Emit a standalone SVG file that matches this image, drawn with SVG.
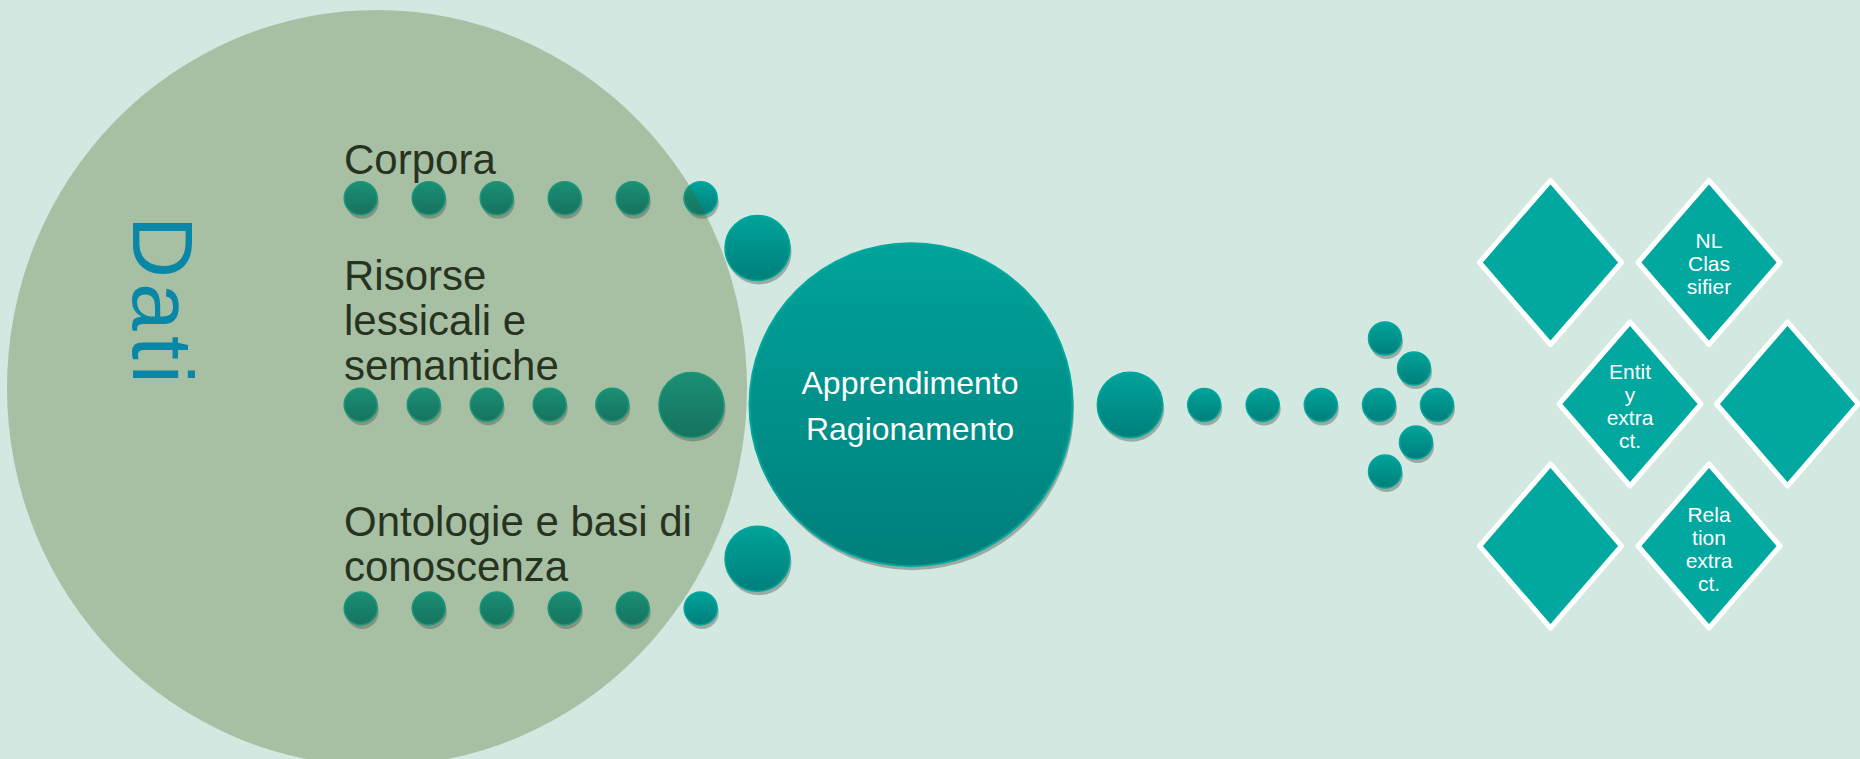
<svg xmlns="http://www.w3.org/2000/svg" width="1860" height="759" viewBox="0 0 1860 759">
<defs>
<linearGradient id="gTeal" x1="0" y1="0" x2="0" y2="1"><stop offset="0" stop-color="#00A39A"/><stop offset="1" stop-color="#007F7B"/></linearGradient>
<linearGradient id="gGreen" x1="0" y1="0" x2="0" y2="1"><stop offset="0" stop-color="#1A8F74"/><stop offset="1" stop-color="#16735E"/></linearGradient>
<clipPath id="clipBig"><ellipse cx="377" cy="388" rx="370" ry="378"/></clipPath>
<g id="dotT"><circle cx="1.5" cy="4" r="16.5" class="sh"/><circle r="16.5" class="tl"/></g>
<g id="dotG"><circle cx="1.5" cy="4" r="16.5" class="sh"/><circle r="16.5" class="gr"/></g>
</defs>
<style>
.sh{fill:#4E5550;fill-opacity:0.42}
.tl{fill:url(#gTeal);stroke:#00A89E;stroke-width:1.5}
.gr{fill:url(#gGreen);stroke:#1A967A;stroke-width:1.5}
.lbl{font-family:"Liberation Sans",Arial,sans-serif;font-size:42px;fill:#28331F}
.wt{font-family:"Liberation Sans",Arial,sans-serif;fill:#FFFFFF;text-anchor:middle}
.dia{fill:#00A8A0;stroke:#FFFFFF;stroke-width:5;stroke-linejoin:round}
</style>
<rect width="1860" height="759" fill="#D3E8E0"/>
<g id="dati">
<ellipse cx="377" cy="388" rx="370" ry="378" fill="#A7C0A4"/>
<text transform="translate(133,216) rotate(90)" font-family="Liberation Sans,Arial,sans-serif" font-size="86" letter-spacing="5" fill="#0A87A6">Dati</text>
</g>
<g id="corpora"><text class="lbl" x="344" y="174">Corpora</text></g>
<g id="risorse"><text class="lbl" x="344" y="290">Risorse</text><text class="lbl" x="344" y="335">lessicali e</text><text class="lbl" x="344" y="380">semantiche</text></g>
<g id="ontologie"><text class="lbl" x="344" y="536">Ontologie e basi di</text><text class="lbl" x="344" y="581">conoscenza</text></g>
<g id="connectors">
<use href="#dotG" x="360.7" y="198.3"/><use href="#dotG" x="428.7" y="198.3"/><use href="#dotG" x="496.7" y="198.3"/><use href="#dotG" x="564.7" y="198.3"/><use href="#dotG" x="632.7" y="198.3"/>
<use href="#dotT" x="700.7" y="198.3"/>
<g clip-path="url(#clipBig)"><circle cx="700.7" cy="198.3" r="16.5" class="gr"/></g>
<use href="#dotG" x="360.7" y="404.7"/><use href="#dotG" x="423.7" y="404.7"/><use href="#dotG" x="486.7" y="404.7"/><use href="#dotG" x="549.7" y="404.7"/><use href="#dotG" x="612.3" y="404.7"/>
<circle cx="693" cy="409" r="32.5" class="sh"/><circle cx="691.5" cy="405" r="32.5" class="gr"/>
<use href="#dotG" x="360.7" y="608.4"/><use href="#dotG" x="428.7" y="608.4"/><use href="#dotG" x="496.7" y="608.4"/><use href="#dotG" x="564.7" y="608.4"/><use href="#dotG" x="632.7" y="608.4"/>
<use href="#dotT" x="700.7" y="608.4"/>
<circle cx="759" cy="252" r="32.5" class="sh"/><circle cx="757.5" cy="248" r="32.5" class="tl"/>
<circle cx="759" cy="562.7" r="32.5" class="sh"/><circle cx="757.5" cy="558.7" r="32.5" class="tl"/>
<circle cx="1131.5" cy="409" r="32.7" class="sh"/><circle cx="1130" cy="405" r="32.7" class="tl"/>
<use href="#dotT" x="1204.2" y="405"/><use href="#dotT" x="1262.7" y="405"/><use href="#dotT" x="1320.8" y="405"/><use href="#dotT" x="1379" y="405"/>
<use href="#dotT" x="1385" y="338.5"/><use href="#dotT" x="1414" y="368.5"/><use href="#dotT" x="1437" y="405"/><use href="#dotT" x="1416" y="442.5"/><use href="#dotT" x="1385" y="471.5"/>
</g>
<g id="apprendimento">
<circle cx="912.5" cy="408.7" r="161.5" class="sh"/>
<circle cx="911" cy="404.7" r="161.5" fill="url(#gTeal)" stroke="#00A89E" stroke-width="2"/>
<text class="wt" x="910" y="394" font-size="32">Apprendimento</text>
<text class="wt" x="910" y="440" font-size="32">Ragionamento</text>
</g>
<g id="d1"><path class="dia" d="M1550.5,180.5 L1621.5,262.5 L1550.5,344.5 L1479.5,262.5 Z"/></g>
<g id="d2"><path class="dia" d="M1709,180.5 L1780,262.5 L1709,344.5 L1638,262.5 Z"/>
<text class="wt" font-size="21"><tspan x="1709" y="248">NL</tspan><tspan x="1709" y="271">Clas</tspan><tspan x="1709" y="294">sifier</tspan></text></g>
<g id="d3"><path class="dia" d="M1630,322 L1701,404 L1630,486 L1559,404 Z"/>
<text class="wt" font-size="21"><tspan x="1630" y="379">Entit</tspan><tspan x="1630" y="401.5">y</tspan><tspan x="1630" y="425">extra</tspan><tspan x="1630" y="447.5">ct.</tspan></text></g>
<g id="d4"><path class="dia" d="M1787.5,322 L1858.5,404 L1787.5,486 L1716.5,404 Z"/></g>
<g id="d5"><path class="dia" d="M1550.5,464 L1621.5,546 L1550.5,628 L1479.5,546 Z"/></g>
<g id="d6"><path class="dia" d="M1709,464 L1780,546 L1709,628 L1638,546 Z"/>
<text class="wt" font-size="21"><tspan x="1709" y="521.5">Rela</tspan><tspan x="1709" y="545">tion</tspan><tspan x="1709" y="567.5">extra</tspan><tspan x="1709" y="590.5">ct.</tspan></text></g>
</svg>
